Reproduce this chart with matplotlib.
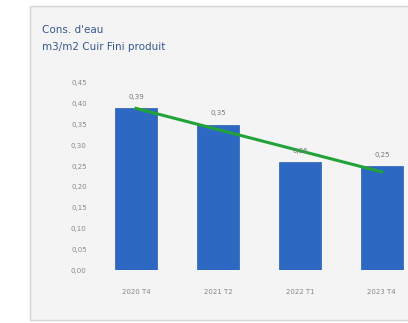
import numpy as np
import matplotlib.pyplot as plt
from matplotlib.patches import Rectangle

# chart values
periods = ["2020 T4", "2021 T2", "2022 T1", "2023 T4"]
water_use = [0.39, 0.35, 0.26, 0.25]
value_labels = ["0,39", "0,35", "0,26", "0,25"]
y_ticks = [0.0, 0.05, 0.10, 0.15, 0.20, 0.25, 0.30, 0.35, 0.40, 0.45]

fig = plt.figure(figsize=(4.08, 3.23), dpi=100)
fig.patch.set_facecolor("white")

# light grey panel behind the chart
panel = Rectangle((30 / 408, 3 / 323), 1.0, 314 / 323, transform=fig.transFigure,
                  facecolor="#f4f4f4", edgecolor="#d4d4d4", linewidth=1.0, zorder=-5)
fig.patches.append(panel)

fig.text(42 / 408, 1 - 30 / 323, "Cons. d'eau", fontsize=7.5, color="#35598c",
         va="center", ha="left")
fig.text(42 / 408, 1 - 47 / 323, "m3/m2 Cuir Fini produit", fontsize=7.5, color="#35598c",
         va="center", ha="left")

ax = fig.add_axes([95 / 408, 53 / 323, 1 - 95 / 408, (270 - 83) / 323])
ax.set_facecolor("none")
ax.set_zorder(2)

x = np.arange(len(periods))
ax.bar(x, water_use, width=0.51, color="#2d68c2", edgecolor="#2a5fb0", linewidth=0.5, zorder=2)

# linear trend line
coef = np.polyfit(x, water_use, 1)
ax.plot(x, np.polyval(coef, x), color="#22a33a", linewidth=2.2, zorder=3)

for i, v in enumerate(water_use):
    ax.text(i, v + 0.02, value_labels[i], ha="center", va="bottom", fontsize=5, color="#777777")

ax.set_xlim(-0.5, 3.32)
ax.set_ylim(0, 0.45)
ax.set_yticks(y_ticks)
ax.set_yticklabels([("%.2f" % t).replace(".", ",") for t in y_ticks])
ax.set_xticks(x)
ax.set_xticklabels(periods)
ax.tick_params(axis="both", length=0, labelsize=5, labelcolor="#888888")
ax.tick_params(axis="y", pad=6)
ax.tick_params(axis="x", pad=14)
for s in ax.spines.values():
    s.set_visible(False)

fig.savefig("out.png", dpi=100)
